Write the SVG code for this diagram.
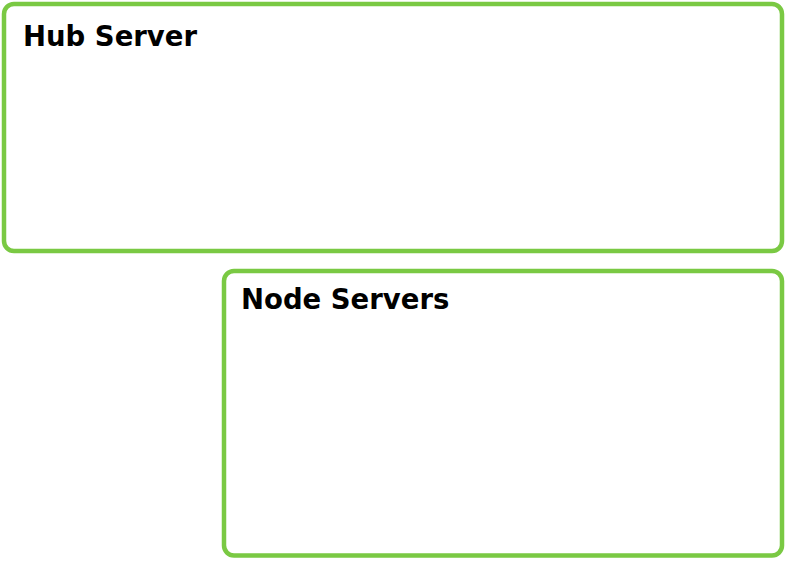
<svg xmlns="http://www.w3.org/2000/svg" width="786" height="561" viewBox="0 0 786 561">
<style>
.box{fill:#ffffff;stroke:#7AC943;stroke-width:4.5}
.lbl{font-family:"DejaVu Sans",Verdana,sans-serif;font-weight:bold;font-size:27.5px;fill:#000000}
</style>
<rect width="786" height="561" fill="#ffffff"/>
<g id="hub-server">
<rect class="box" x="4" y="4" width="778" height="247" rx="10" ry="10"/>
<text class="lbl" x="23" y="46">Hub Server</text>
</g>
<g id="node-servers">
<rect class="box" x="224" y="271" width="558" height="284.5" rx="10" ry="10"/>
<text class="lbl" x="241" y="309">Node Servers</text>
</g>
<g id="connectors"></g>
</svg>
